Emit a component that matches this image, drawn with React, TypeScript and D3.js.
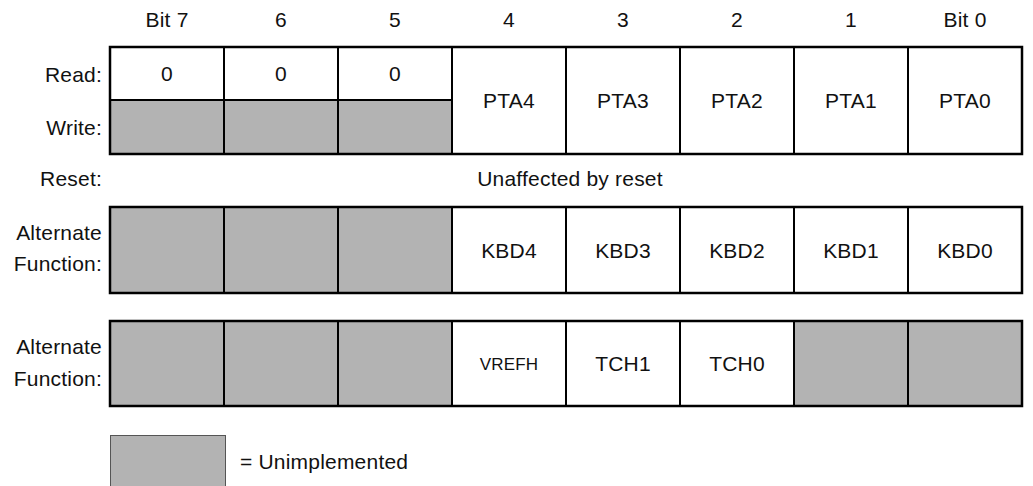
import React from 'react'
import * as d3 from 'd3'

// register layout data, bit 7 .. bit 0
const bits = [7, 6, 5, 4, 3, 2, 1, 0]
const bitLabels = ['Bit 7', '6', '5', '4', '3', '2', '1', 'Bit 0']
// null = unimplemented (grey)
const readRow: (string | null)[] = ['0', '0', '0', 'PTA4', 'PTA3', 'PTA2', 'PTA1', 'PTA0']
const writeRow: (string | null)[] = [null, null, null, 'PTA4', 'PTA3', 'PTA2', 'PTA1', 'PTA0']
const resetText = 'Unaffected by reset'
const altRow1: (string | null)[] = [null, null, null, 'KBD4', 'KBD3', 'KBD2', 'KBD1', 'KBD0']
const altRow2: (string | null)[] = [null, null, null, 'VREFH', 'TCH1', 'TCH0', null, null]
const smallLabels = ['VREFH']
const legendText = '= Unimplemented'

const W = 1033
const H = 486
const FONT = '"Liberation Sans", Arial, sans-serif'
const FS = 21
const GREY = '#b3b3b3'

export default function App() {
  const x = d3.scaleBand<number>().domain(bits).range([110, 1022]).paddingInner(0)
  const bw = x.bandwidth()

  // row geometry
  const rw = { top: 47, mid: 100, bottom: 154 }
  const alt1 = { top: 207, bottom: 293 }
  const alt2 = { top: 321, bottom: 406 }

  const txt = (s: string, cx: number, cy: number, anchor = 'middle', size = FS, key?: any) => (
    <text key={key} x={cx} y={cy} textAnchor={anchor} dominantBaseline="central"
      fontFamily={FONT} fontSize={size} letterSpacing={0.2} fill="#111">{s}</text>
  )

  const cells: React.ReactNode[] = []

  // read / write row
  bits.forEach((b, i) => {
    const x0 = x(b)!
    const r = readRow[i], w = writeRow[i]
    if (r !== null && r === w) {
      cells.push(<rect key={'rw' + i} x={x0} y={rw.top} width={bw} height={rw.bottom - rw.top} fill="#fff" />)
      cells.push(txt(r, x0 + bw / 2, (rw.top + rw.bottom) / 2, 'middle', FS, 'rwt' + i))
    } else {
      cells.push(<rect key={'r' + i} x={x0} y={rw.top} width={bw} height={rw.mid - rw.top} fill={r === null ? GREY : '#fff'} />)
      cells.push(<rect key={'w' + i} x={x0} y={rw.mid} width={bw} height={rw.bottom - rw.mid} fill={w === null ? GREY : '#fff'} />)
      if (r !== null) cells.push(txt(r, x0 + bw / 2, (rw.top + rw.mid) / 2, 'middle', FS, 'rt' + i))
      if (w !== null) cells.push(txt(w, x0 + bw / 2, (rw.mid + rw.bottom) / 2, 'middle', FS, 'wt' + i))
      cells.push(<line key={'rl' + i} x1={x0} x2={x0 + bw} y1={rw.mid} y2={rw.mid} stroke="#000" strokeWidth={2} />)
    }
  })

  const altRow = (row: (string | null)[], g: { top: number; bottom: number }, k: string) =>
    bits.forEach((b, i) => {
      const x0 = x(b)!
      const v = row[i]
      cells.push(<rect key={k + i} x={x0} y={g.top} width={bw} height={g.bottom - g.top} fill={v === null ? GREY : '#fff'} />)
      if (v !== null) {
        const small = smallLabels.includes(v)
        cells.push(txt(v, x0 + bw / 2, (g.top + g.bottom) / 2 + (small ? 1 : 0), 'middle', small ? 17 : FS, k + 't' + i))
      }
    })
  altRow(altRow1, alt1, 'a1')
  altRow(altRow2, alt2, 'a2')

  // vertical dividers and outer frames
  const frames = [rw, alt1, alt2]
  const dividers: React.ReactNode[] = []
  frames.forEach((g, fi) => {
    bits.slice(1).forEach((b) => {
      dividers.push(<line key={'d' + fi + b} x1={x(b)!} x2={x(b)!} y1={g.top} y2={g.bottom} stroke="#000" strokeWidth={2} />)
    })
    dividers.push(<rect key={'f' + fi} x={110} y={g.top} width={1022 - 110} height={g.bottom - g.top}
      fill="none" stroke="#000" strokeWidth={2.5} />)
  })

  const labelX = 102

  return (
    <svg width={W} height={H} style={{ position: 'absolute', left: 0, top: 0, background: '#fff' }}>
      <rect width={W} height={H} fill="#fff" />
      {bitLabels.map((l, i) => txt(l, x(bits[i])! + bw / 2, 19, 'middle', FS, 'h' + i))}
      {cells}
      {dividers}
      {txt('Read:', labelX, 74, 'end', FS, 'lr')}
      {txt('Write:', labelX, 127, 'end', FS, 'lw')}
      {txt('Reset:', labelX, 178, 'end', FS, 'ls')}
      {txt(resetText, 570, 178, 'middle', FS, 'rs')}
      {txt('Alternate', labelX, 232, 'end', FS, 'la1')}
      {txt('Function:', labelX, 263, 'end', FS, 'lf1')}
      {txt('Alternate', labelX, 346, 'end', FS, 'la2')}
      {txt('Function:', labelX, 378, 'end', FS, 'lf2')}
      <rect x={110.5} y={435.5} width={115} height={60} fill={GREY} stroke="#555" strokeWidth={1} />
      {txt(legendText, 240, 461, 'start', FS, 'lg')}
    </svg>
  )
}
